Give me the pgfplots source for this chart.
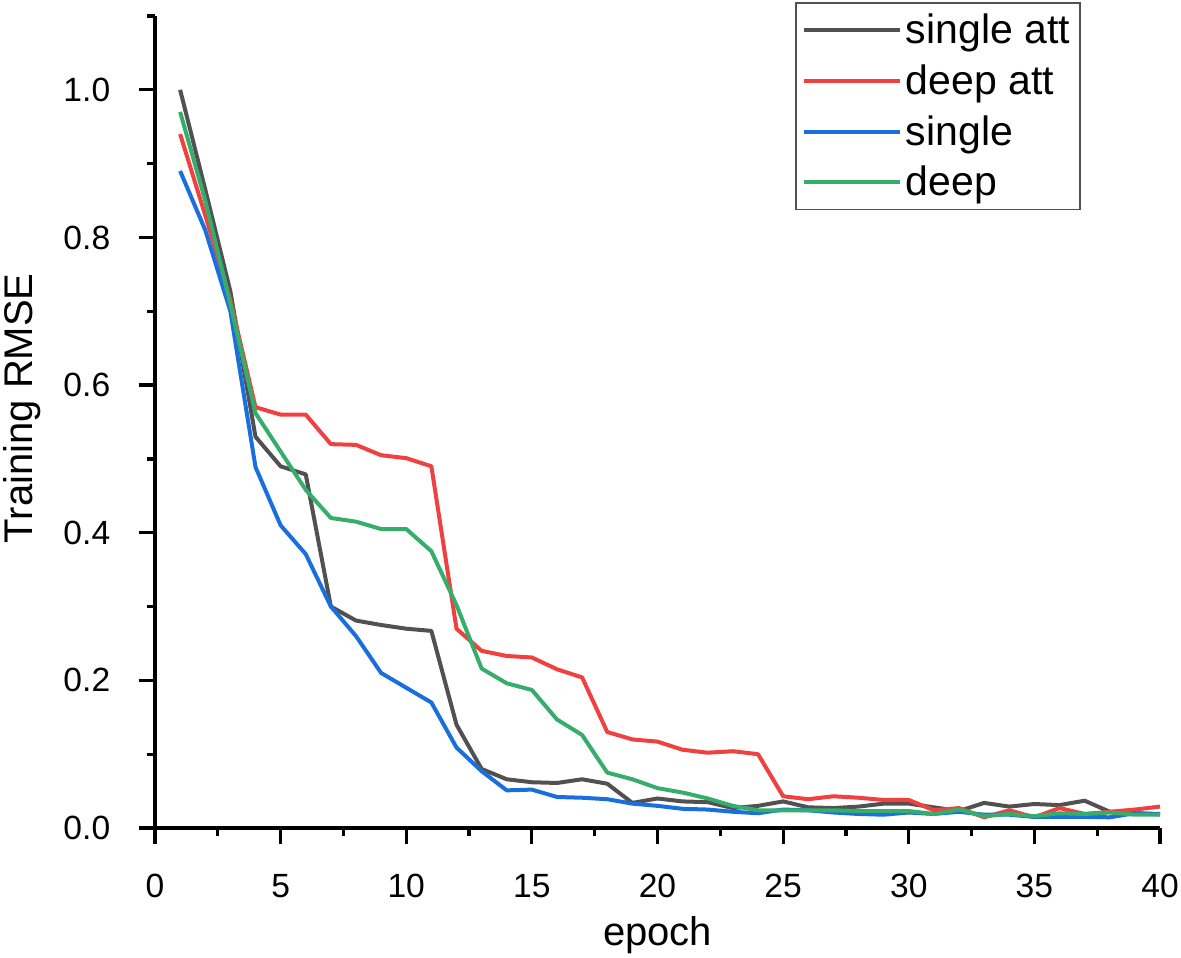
\documentclass[border=0pt]{standalone}
\usepackage{pgfplots}
\pgfplotsset{compat=1.18}
\usepackage{fontspec}
\setmainfont{Liberation Sans}

\definecolor{cgray}{HTML}{515151}
\definecolor{cred}{HTML}{F14040}
\definecolor{cblue}{HTML}{1A6FDF}
\definecolor{cgreen}{HTML}{37AD6B}

\begin{document}
\begin{tikzpicture}
  % fix the page to the reference's frame (1 px = 0.5 pt)
  \path[use as bounding box] (-77.5pt,-64.5pt) rectangle (513pt,414pt);
  \begin{axis}[
      at={(0,0)}, anchor=south west,
      scale only axis,
      width=502.5pt, height=406pt,
      xmin=0, xmax=40,
      ymin=0, ymax=1.1,
      axis lines=left,
      axis line style={-, line width=1.6pt, black},
      xtick={0,5,...,40},
      ytick={0,0.2,...,1.0},
      minor x tick num=1,
      minor y tick num=1,
      extra y ticks={1.1},
      extra y tick labels={},
      extra y tick style={major tick length=4pt},
      tick align=outside,
      major tick length=8pt,
      minor tick length=4pt,
      every tick/.style={line width=1.6pt, black},
      /pgf/number format/assume math mode=true,
      yticklabel style={/pgf/number format/fixed, /pgf/number format/fixed zerofill,
          /pgf/number format/precision=1},
      tick label style={font=\fontsize{16.8}{20}\selectfont, inner sep=0pt},
      xticklabel style={anchor=north, yshift=-15pt},
      yticklabel style={anchor=east, xshift=-14.2pt},
      xlabel={epoch},
      ylabel={Training RMSE},
      label style={font=\fontsize{20}{24}\selectfont},
      xlabel style={at={(axis description cs:0.5,-0.1318)}, anchor=center},
      ylabel style={at={(axis description cs:-0.1323,0.517)}, anchor=center},
      legend cell align=left,
      legend style={
          at={(axis description cs:0.921,1.017)}, anchor=north east,
          draw=cgray, line width=0.7pt,
          font=\fontsize{20.5}{24}\selectfont,
          row sep=5pt, inner xsep=3pt, inner ysep=3.5pt,
          /tikz/every even column/.append style={column sep=6pt},
        },
      legend image code/.code={\draw[#1] (0pt,0pt) -- (48pt,0pt);},
    ]
    \addplot[cgray, line width=2pt, line join=round] coordinates {
        (1,1.0) (2,0.865) (3,0.727) (4,0.530) (5,0.490) (6,0.479) (7,0.300) (8,0.281)
        (9,0.275) (10,0.270) (11,0.267) (12,0.140) (13,0.080) (14,0.066) (15,0.062)
        (16,0.061) (17,0.066) (18,0.060) (19,0.034) (20,0.040) (21,0.036) (22,0.035)
        (23,0.027) (24,0.030) (25,0.036) (26,0.028) (27,0.027) (28,0.029) (29,0.033)
        (30,0.033) (31,0.028) (32,0.023) (33,0.034) (34,0.029) (35,0.0325) (36,0.031)
        (37,0.037) (38,0.022) (39,0.020) (40,0.0185)
      };
    \addlegendentry{single att}
    \addplot[cred, line width=2pt, line join=round] coordinates {
        (1,0.94) (2,0.83) (3,0.715) (4,0.570) (5,0.560) (6,0.560) (7,0.520) (8,0.519)
        (9,0.505) (10,0.501) (11,0.490) (12,0.270) (13,0.240) (14,0.233) (15,0.231)
        (16,0.215) (17,0.204) (18,0.130) (19,0.120) (20,0.117) (21,0.106) (22,0.102)
        (23,0.104) (24,0.100) (25,0.043) (26,0.039) (27,0.043) (28,0.041) (29,0.038)
        (30,0.038) (31,0.024) (32,0.027) (33,0.0145) (34,0.024) (35,0.0145) (36,0.027)
        (37,0.019) (38,0.022) (39,0.025) (40,0.029)
      };
    \addlegendentry{deep att}
    \addplot[cblue, line width=2pt, line join=round] coordinates {
        (1,0.89) (2,0.81) (3,0.70) (4,0.489) (5,0.410) (6,0.371) (7,0.300) (8,0.260)
        (9,0.210) (10,0.190) (11,0.170) (12,0.109) (13,0.077) (14,0.051) (15,0.052)
        (16,0.042) (17,0.041) (18,0.039) (19,0.033) (20,0.030) (21,0.026) (22,0.025)
        (23,0.022) (24,0.020) (25,0.025) (26,0.024) (27,0.021) (28,0.019) (29,0.018)
        (30,0.021) (31,0.019) (32,0.022) (33,0.018) (34,0.018) (35,0.015) (36,0.015)
        (37,0.015) (38,0.0145) (39,0.020) (40,0.019)
      };
    \addlegendentry{single}
    \addplot[cgreen, line width=2pt, line join=round] coordinates {
        (1,0.97) (2,0.85) (3,0.71) (4,0.562) (5,0.510) (6,0.458) (7,0.420) (8,0.415)
        (9,0.405) (10,0.405) (11,0.375) (12,0.302) (13,0.216) (14,0.196) (15,0.187)
        (16,0.147) (17,0.126) (18,0.075) (19,0.066) (20,0.054) (21,0.048) (22,0.040)
        (23,0.030) (24,0.024) (25,0.024) (26,0.024) (27,0.024) (28,0.023) (29,0.023)
        (30,0.023) (31,0.019) (32,0.025) (33,0.016) (34,0.019) (35,0.016) (36,0.020)
        (37,0.019) (38,0.021) (39,0.018) (40,0.018)
      };
    \addlegendentry{deep}
  \end{axis}
\end{tikzpicture}
\end{document}
